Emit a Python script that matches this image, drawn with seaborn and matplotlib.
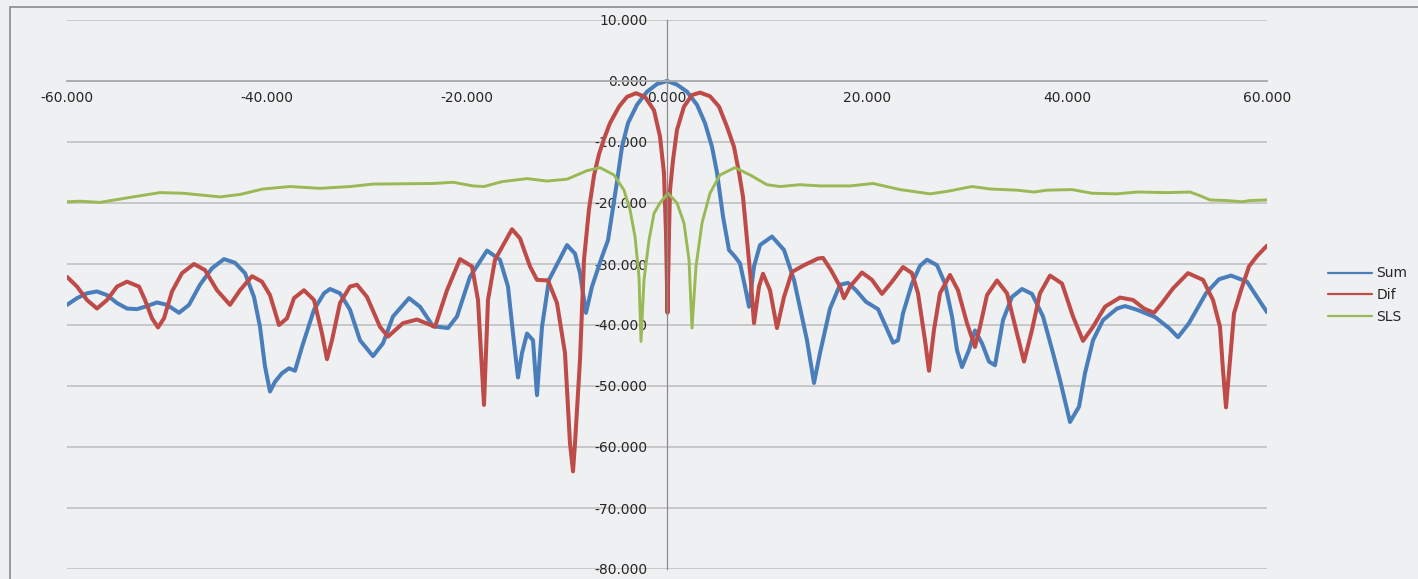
"""
Diagramme de rayonnement Sum / Dif / SLS (style Excel)
"""

import matplotlib
matplotlib.use("Agg")
import matplotlib.pyplot as plt
from matplotlib.lines import Line2D
from matplotlib.patches import Rectangle
import pandas as pd
import seaborn as sns

# Données (angle en degrés, niveau en dB)
sum_x = [-60.0, -59.0, -58.0, -57.0, -56.0, -55.0, -54.0, -53.0, -52.0, -51.0,
         -50.0, -48.8, -47.8, -46.7, -45.5, -44.3, -43.2, -42.2, -41.3, -40.7,
         -40.2, -39.7, -39.2, -38.5, -37.8, -37.2, -36.5, -35.3, -34.3, -33.7,
         -32.7, -31.7, -30.7, -29.4, -28.4, -27.4, -25.8, -24.7, -23.4, -21.9,
         -21.0, -19.7, -18.0, -16.7, -15.9, -15.4, -14.9, -14.5, -14.0, -13.4,
         -13.0, -12.5, -11.8, -10.0, -9.2, -8.7, -8.1, -7.5, -6.5, -5.9,
         -5.0, -4.5, -3.9, -3.0, -2.0, -1.0, 0.0, 1.0, 2.0, 3.0,
         3.8, 4.5, 5.0, 5.6, 6.2, 6.8, 7.3, 7.8, 8.2, 8.7,
         9.3, 10.5, 11.7, 12.7, 14.0, 14.7, 15.3, 16.3, 17.3, 18.1,
         18.9, 19.9, 21.1, 21.9, 22.6, 23.1, 23.6, 24.5, 25.3, 26.0,
         27.0, 27.8, 28.5, 29.0, 29.5, 30.2, 30.8, 31.5, 32.2, 32.8,
         33.6, 34.5, 35.5, 36.5, 37.6, 38.6, 39.3, 40.3, 41.2, 41.8,
         42.6, 43.6, 45.0, 45.8, 47.0, 48.2, 48.8, 50.2, 51.1, 52.2,
         53.9, 55.2, 56.4, 58.0, 60.0]
sum_y = [-36.7, -35.6, -34.8, -34.5, -35.1, -36.4, -37.3, -37.4, -36.9, -36.3,
         -36.7, -38.0, -36.7, -33.4, -30.7, -29.2, -29.8, -31.5, -35.4, -40.3,
         -46.8, -50.9, -49.3, -47.9, -47.1, -47.5, -43.6, -37.5, -34.8, -34.1,
         -34.8, -37.5, -42.5, -45.1, -43.0, -38.6, -35.6, -37.0, -40.2, -40.5,
         -38.6, -32.1, -27.8, -29.3, -33.7, -41.4, -48.6, -44.6, -41.4, -42.5,
         -51.5, -40.3, -32.6, -26.9, -28.3, -31.5, -38.0, -33.7, -28.8, -26.1,
         -16.5, -10.8, -6.9, -3.9, -1.75, -0.5, 0.0, -0.6, -1.75, -3.9,
         -6.9, -10.8, -15.0, -22.2, -27.7, -28.8, -29.9, -33.7, -37.0, -30.4,
         -26.9, -25.5, -27.7, -32.6, -42.5, -49.5, -44.6, -37.3, -33.4, -33.1,
         -34.3, -36.2, -37.4, -40.3, -42.9, -42.5, -38.1, -33.2, -30.3, -29.3,
         -30.2, -33.2, -38.6, -44.1, -46.9, -44.1, -40.9, -43.0, -46.0, -46.6,
         -39.2, -35.4, -34.1, -34.9, -38.6, -44.6, -49.0, -55.9, -53.4, -47.9,
         -42.5, -39.2, -37.3, -36.9, -37.5, -38.3, -38.7, -40.5, -42.0, -39.7,
         -34.8, -32.5, -31.9, -32.9, -37.9]

dif_x = [-60.0, -59.0, -58.0, -57.0, -56.0, -55.0, -54.0, -52.8, -52.2, -51.5,
         -50.9, -50.3, -49.5, -48.5, -47.3, -46.2, -45.0, -43.7, -42.7, -41.5,
         -40.5, -39.7, -38.8, -38.0, -37.3, -36.3, -35.3, -34.5, -34.0, -33.5,
         -32.7, -31.7, -31.0, -30.0, -28.7, -27.9, -26.4, -25.0, -23.2, -22.0,
         -20.7, -19.5, -18.9, -18.3, -17.9, -17.2, -15.5, -14.7, -13.7, -13.0,
         -11.9, -11.0, -10.2, -9.7, -9.4, -9.2, -8.7, -8.3, -7.8, -7.3,
         -6.8, -6.3, -5.7, -4.8, -4.0, -3.1, -2.2, -1.3, -0.7, -0.3,
         -0.1, 0.05, 0.2, 0.3, 0.6, 1.0, 1.7, 2.5, 3.3, 4.3,
         5.2, 6.0, 6.7, 7.2, 7.6, 8.0, 8.4, 8.7, 9.2, 9.6,
         10.3, 11.0, 11.7, 12.5, 13.7, 15.1, 15.6, 16.4, 17.3, 17.7,
         18.3, 19.5, 20.5, 21.5, 22.5, 23.6, 24.5, 25.1, 25.8, 26.2,
         26.7, 27.3, 28.3, 29.1, 30.0, 30.8, 31.3, 32.0, 33.0, 34.0,
         35.0, 35.7, 36.5, 37.3, 38.3, 39.5, 40.6, 41.6, 42.6, 43.8,
         45.3, 46.6, 47.7, 48.7, 49.5, 50.6, 52.1, 53.6, 54.6, 55.3,
         55.6, 55.9, 56.3, 56.7, 57.4, 58.2, 59.0, 60.0]
dif_y = [-32.1, -33.7, -35.9, -37.3, -35.9, -33.7, -32.9, -33.7, -35.9, -38.9,
         -40.4, -38.9, -34.5, -31.5, -30.0, -31.0, -34.3, -36.7, -34.3, -32.0,
         -32.9, -35.1, -40.0, -38.9, -35.6, -34.3, -35.9, -41.4, -45.6, -42.5,
         -36.4, -33.7, -33.4, -35.4, -40.3, -41.9, -39.7, -39.1, -40.3, -34.3,
         -29.2, -30.4, -35.9, -53.1, -35.9, -29.3, -24.3, -25.8, -30.4, -32.6,
         -32.7, -36.4, -44.6, -59.4, -64.0, -59.4, -45.7, -29.3, -21.0, -15.5,
         -12.0, -9.5, -6.9, -4.2, -2.6, -2.0, -2.6, -4.8, -9.1, -15.1,
         -25.0, -38.0, -25.0, -17.9, -13.0, -8.0, -4.2, -2.3, -1.9, -2.5,
         -4.2, -7.5, -10.8, -15.0, -19.0, -26.0, -33.0, -39.7, -33.7, -31.6,
         -34.3, -40.5, -35.4, -31.3, -30.2, -29.1, -29.0, -31.0, -33.7, -35.6,
         -33.7, -31.4, -32.6, -34.9, -32.9, -30.5, -31.5, -34.8, -42.5, -47.5,
         -40.8, -34.8, -31.8, -34.3, -39.7, -43.6, -40.3, -35.1, -32.7, -34.8,
         -41.4, -46.0, -40.8, -34.8, -31.9, -33.2, -38.6, -42.6, -40.3, -37.0,
         -35.5, -35.9, -37.3, -38.0, -36.4, -34.0, -31.5, -32.6, -35.9, -40.3,
         -47.4, -53.5, -45.7, -38.1, -34.3, -30.4, -28.7, -27.0]

sls_x = [-60.0, -58.7, -56.7, -53.4, -50.7, -48.4, -44.7, -42.7, -40.4, -37.7,
         -34.7, -31.7, -29.4, -23.4, -21.4, -19.4, -18.3, -16.5, -14.0, -12.0,
         -10.0, -8.0, -6.7, -5.3, -4.3, -3.7, -3.2, -2.8, -2.6, -2.3,
         -1.8, -1.3, -0.7, 0.1, 1.0, 1.7, 2.2, 2.5, 2.9, 3.5,
         4.3, 5.3, 6.8, 8.3, 10.0, 11.3, 13.3, 15.3, 18.3, 20.6,
         23.3, 26.3, 28.0, 30.5, 32.3, 35.0, 36.7, 38.0, 40.5, 42.5,
         45.0, 47.0, 50.0, 52.3, 53.3, 54.3, 56.0, 57.5, 58.3, 60.0]
sls_y = [-19.8, -19.7, -19.9, -19.0, -18.3, -18.4, -19.0, -18.6, -17.7, -17.3,
         -17.6, -17.3, -16.9, -16.8, -16.6, -17.2, -17.3, -16.5, -16.0, -16.4,
         -16.1, -14.7, -14.2, -15.4, -17.9, -21.1, -25.5, -32.1, -42.7, -32.6,
         -26.1, -21.7, -20.0, -18.4, -20.0, -23.3, -29.3, -40.5, -30.4, -23.3,
         -18.4, -15.4, -14.2, -15.4, -17.0, -17.3, -17.0, -17.2, -17.2, -16.8,
         -17.8, -18.5, -18.1, -17.3, -17.7, -17.9, -18.2, -17.9, -17.8, -18.4,
         -18.5, -18.2, -18.3, -18.2, -18.8, -19.5, -19.6, -19.8, -19.6, -19.5]

series_names = ["Sum", "Dif", "SLS"]
x_ticks = [-60, -40, -20, 0, 20, 40, 60]
y_ticks = [-80, -70, -60, -50, -40, -30, -20, -10, 0, 10]

# Style
BG = "#EFF0F2"
COLORS = {"Sum": "#4A7EBB", "Dif": "#BE4B48", "SLS": "#98B954"}
WIDTHS = {"Sum": 2.9, "Dif": 2.9, "SLS": 2.1}
W, H = 1418, 579


def build_frame():
    """Assembler les séries dans un DataFrame long"""
    parts = []
    for name, xs, ys in zip(series_names, (sum_x, dif_x, sls_x), (sum_y, dif_y, sls_y)):
        parts.append(pd.DataFrame({"angle": xs, "level": ys, "series": name}))
    return pd.concat(parts, ignore_index=True)


def main():
    sns.set_theme(style="white")
    plt.rcParams["font.family"] = ["DejaVu Sans"]

    df = build_frame()

    fig = plt.figure(figsize=(W / 100, H / 100), dpi=100, facecolor=BG)
    ax = fig.add_axes([67 / W, (H - 569) / H, 1200 / W, 549 / H])
    ax.set_facecolor(BG)
    ax.set_axisbelow(True)

    for name in series_names:
        sns.lineplot(data=df[df["series"] == name], x="angle", y="level",
                     color=COLORS[name], linewidth=WIDTHS[name],
                     estimator=None, sort=False, legend=False, ax=ax,
                     solid_joinstyle="round", solid_capstyle="round")

    ax.set_xlim(-60, 60)
    ax.set_ylim(-80, 10)
    ax.set_xticks(x_ticks)
    ax.set_yticks(y_ticks)
    ax.set_xticklabels([f"{v:.3f}" for v in x_ticks])
    ax.set_yticklabels([f"{v:.3f}" for v in y_ticks])
    ax.set_xlabel("")
    ax.set_ylabel("")

    # Quadrillage horizontal
    ax.yaxis.grid(True, color="#C4C4C4", linewidth=1.3)
    ax.xaxis.grid(False)

    # Axes qui se croisent à l'origine
    for side in ("top", "right"):
        ax.spines[side].set_visible(False)
    ax.spines["left"].set_position(("data", 0))
    ax.spines["bottom"].set_position(("data", 0))
    ax.spines["left"].set_color("#8A8A8A")
    ax.spines["left"].set_linewidth(0.9)
    ax.spines["bottom"].set_color("#ABABAB")
    ax.spines["bottom"].set_linewidth(1.3)

    ax.tick_params(axis="x", direction="out", length=3, width=0.9, color="#9A9A9A",
                   pad=4, labelsize=10, labelcolor="#262626")
    ax.tick_params(axis="y", length=0, pad=14, labelsize=10, labelcolor="#262626")

    # Légende à droite
    handles = [Line2D([0], [0], color=COLORS[n], linewidth=1.6) for n in series_names]
    fig.legend(handles, series_names, loc="center left",
               bbox_to_anchor=(1328 / W, 1 - 295 / H), frameon=False,
               borderpad=0, borderaxespad=0, handlelength=3.2, handletextpad=0.3,
               labelspacing=0.55, fontsize=10, labelcolor="#262626")

    # Cadre du graphique (bords haut et gauche visibles)
    fig.add_artist(Rectangle((10 / W, -0.5), 2.0, 1.5 - 7 / H, transform=fig.transFigure,
                             fill=False, edgecolor="#8C8C8C", linewidth=1.2))

    fig.savefig("out.png", dpi=100, facecolor=BG)
    plt.close(fig)


if __name__ == "__main__":
    main()
